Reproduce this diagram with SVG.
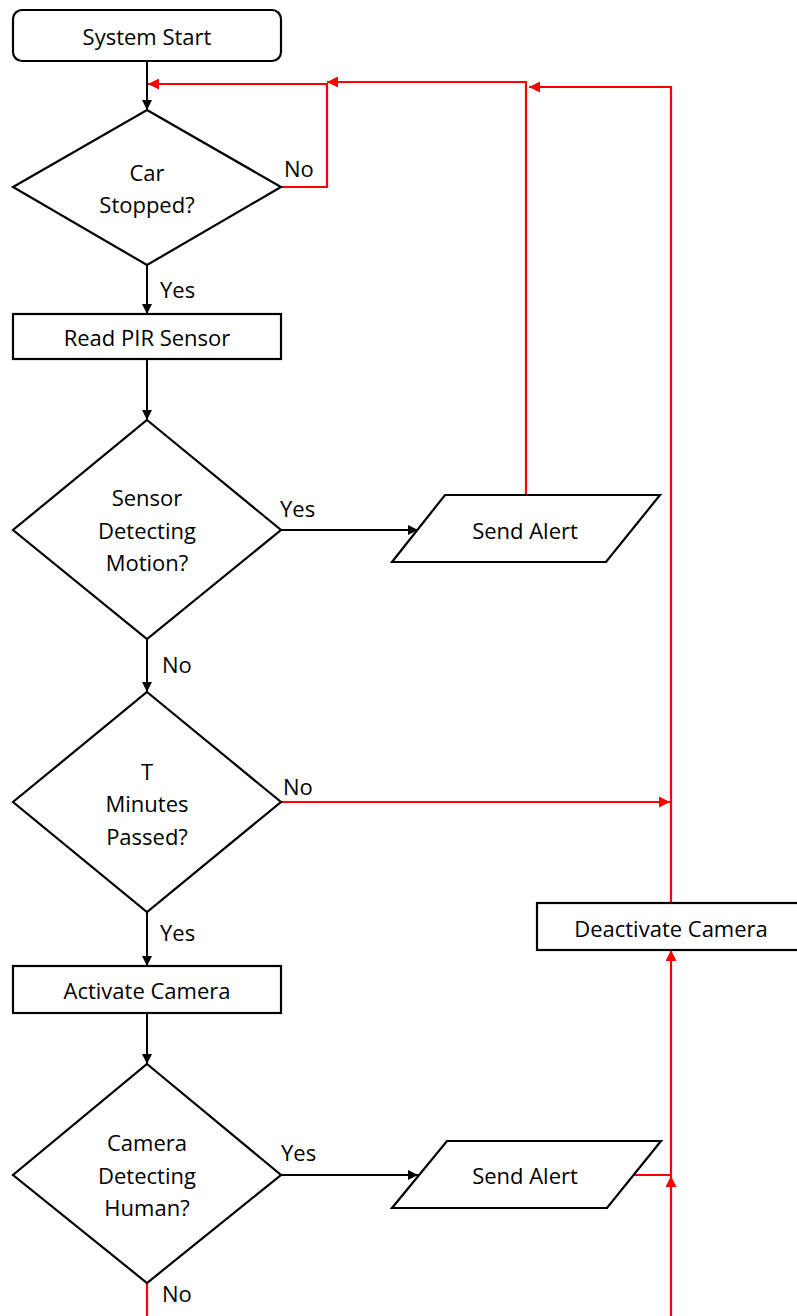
<svg xmlns="http://www.w3.org/2000/svg" width="797" height="1316" viewBox="0 0 797 1316">
<style>
.n{fill:#fff;stroke:#000;stroke-width:2.2}
.t{font-family:"Open Sans","Noto Sans",sans-serif;font-size:22px;fill:#000;text-anchor:middle;dominant-baseline:central}
.l{font-family:"Open Sans","Noto Sans",sans-serif;font-size:22px;fill:#000;dominant-baseline:central}
.k{fill:none;stroke:#000;stroke-width:2}
.r{fill:none;stroke:#f00;stroke-width:2.2}
</style>
<defs>
<marker id="ab" viewBox="0 0 10 10" refX="10" refY="5" markerWidth="5.5" markerHeight="5" orient="auto" markerUnits="strokeWidth"><path d="M0,0L10,5L0,10z" fill="#000"/></marker>
<marker id="ar" viewBox="0 0 10 10" refX="10" refY="5" markerWidth="5.5" markerHeight="5" orient="auto" markerUnits="strokeWidth"><path d="M0,0L10,5L0,10z" fill="#f00"/></marker>
</defs>
<g id="connectors">
<path class="k" d="M147,61V110" marker-end="url(#ab)"/>
<path class="k" d="M147,265V314" marker-end="url(#ab)"/>
<path class="k" d="M147,359V420" marker-end="url(#ab)"/>
<path class="k" d="M281,530H418" marker-end="url(#ab)"/>
<path class="k" d="M147,639V692" marker-end="url(#ab)"/>
<path class="k" d="M147,912V966" marker-end="url(#ab)"/>
<path class="k" d="M147,1013V1064" marker-end="url(#ab)"/>
<path class="k" d="M281,1175H418" marker-end="url(#ab)"/>
<path class="r" d="M281,187H327V84H148" marker-end="url(#ar)"/>
<path class="r" d="M526,495V82H327" marker-end="url(#ar)"/>
<path class="r" d="M671,903V87H529" marker-end="url(#ar)"/>
<path class="r" d="M281,802H670" marker-end="url(#ar)"/>
<path class="r" d="M634,1175H671V950" marker-end="url(#ar)"/>
<path class="r" d="M671,1316V1176" marker-end="url(#ar)"/>
<path class="r" d="M147,1283V1316"/>
<text class="l" x="284" y="168">No</text>
<text class="l" x="160" y="289">Yes</text>
<text class="l" x="280" y="508">Yes</text>
<text class="l" x="162" y="664">No</text>
<text class="l" x="283" y="786">No</text>
<text class="l" x="160" y="932">Yes</text>
<text class="l" x="281" y="1152">Yes</text>
<text class="l" x="162" y="1293">No</text>
</g>
<g id="start"><rect class="n" x="13" y="10" width="268" height="51" rx="9"/><text class="t" x="147" y="36">System Start</text></g>
<g id="carStopped"><path class="n" d="M147,110L281,187L147,265L13,187Z"/><text class="t" x="147" y="172">Car</text><text class="t" x="147" y="204">Stopped?</text></g>
<g id="readPIR"><rect class="n" x="13" y="314" width="268" height="45"/><text class="t" x="147" y="337">Read PIR Sensor</text></g>
<g id="motion"><path class="n" d="M147,420L281,530L147,639L13,530Z"/><text class="t" x="147" y="497">Sensor</text><text class="t" x="147" y="530">Detecting</text><text class="t" x="147" y="562">Motion?</text></g>
<g id="alert1"><path class="n" d="M445,495H660L606,562H392Z"/><text class="t" x="525" y="530">Send Alert</text></g>
<g id="tMinutes"><path class="n" d="M147,692L281,802L147,912L13,802Z"/><text class="t" x="147" y="771">T</text><text class="t" x="147" y="803">Minutes</text><text class="t" x="147" y="836">Passed?</text></g>
<g id="deactivate"><rect class="n" x="537" y="903" width="268" height="47"/><text class="t" x="671" y="928">Deactivate Camera</text></g>
<g id="activate"><rect class="n" x="13" y="966" width="268" height="47"/><text class="t" x="147" y="990">Activate Camera</text></g>
<g id="human"><path class="n" d="M147,1064L281,1175L147,1283L13,1175Z"/><text class="t" x="147" y="1142">Camera</text><text class="t" x="147" y="1175">Detecting</text><text class="t" x="147" y="1207">Human?</text></g>
<g id="alert2"><path class="n" d="M447,1141H661L607,1208H392Z"/><text class="t" x="525" y="1175">Send Alert</text></g>
</svg>
